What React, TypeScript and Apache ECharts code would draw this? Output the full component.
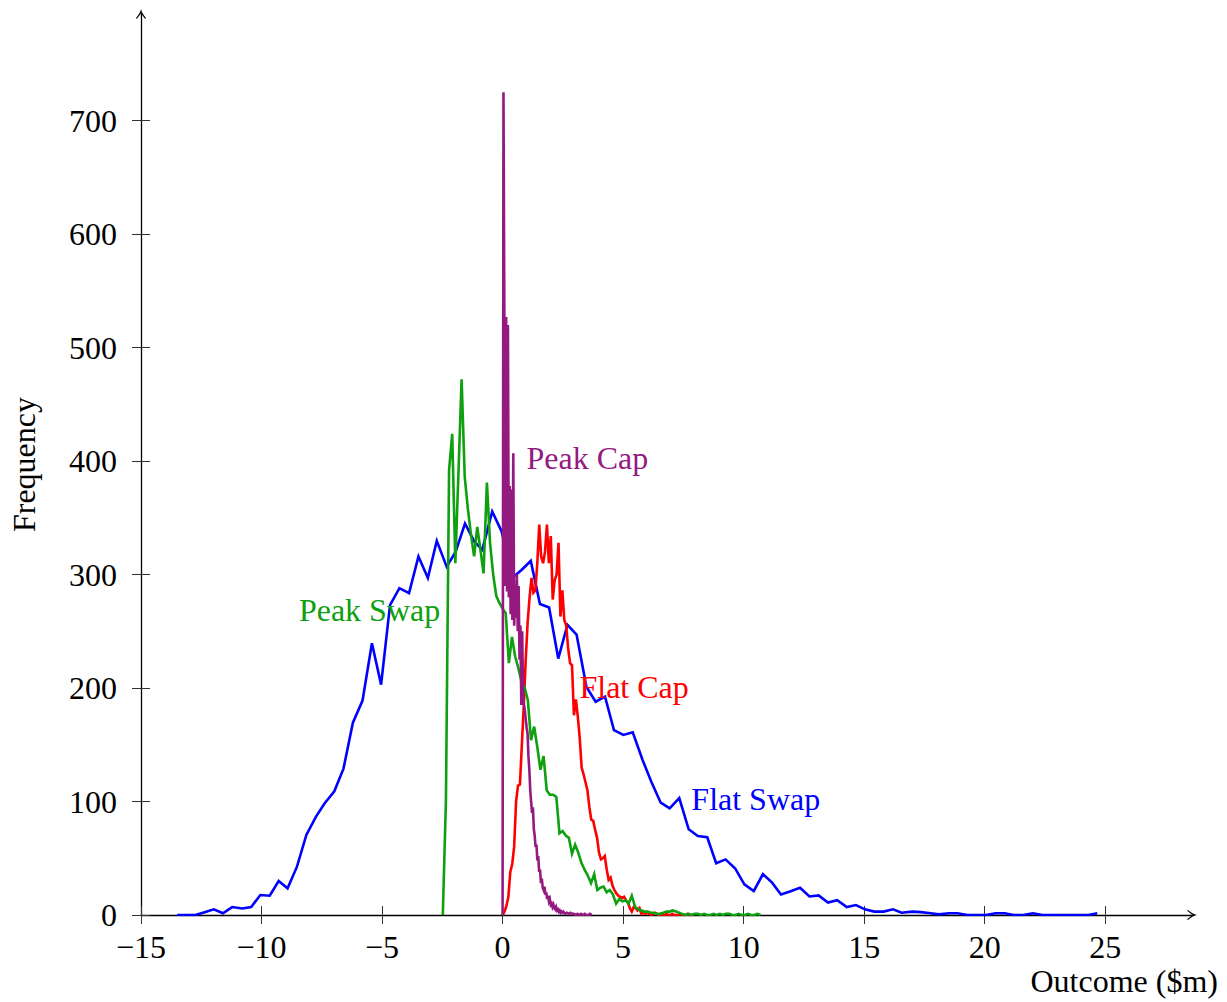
import React, { useEffect, useRef } from 'react';
import * as echarts from 'echarts';

const FONT = "'Liberation Serif', 'Times New Roman', serif";

const xTicks = [-15, -10, -5, 0, 5, 10, 15, 20, 25];
const yTicks = [0, 100, 200, 300, 400, 500, 600, 700];

const seriesNames = ['Flat Swap', 'Flat Cap', 'Peak Swap', 'Peak Cap'];
const seriesColors = ['#0000ff', '#ff0000', '#0ea00e', '#951a80'];

// label anchors (left-middle of text) in data coordinates
const labelX = [7.83, 3.19, -8.45, 0.99];
const labelY = [102, 201, 269, 403];

const flatSwap: [number, number][] = [
  [-13.5, 0], [-13.1, 0], [-12.74, 0], [-12.36, 2.5], [-11.98, 5], [-11.6, 1.5], [-11.22, 7],
  [-10.8, 5.7], [-10.43, 7], [-10.05, 17.6], [-9.66, 17], [-9.29, 30], [-8.92, 23.5],
  [-8.53, 42.6], [-8.14, 70.5], [-7.74, 86.7], [-7.38, 98.5], [-6.98, 109], [-6.6, 129],
  [-6.21, 169.5], [-5.81, 189], [-5.42, 239.5], [-5.04, 203], [-4.67, 273], [-4.28, 288],
  [-3.88, 283.6], [-3.49, 316], [-3.1, 297], [-2.73, 329.7], [-2.32, 307], [-1.95, 320],
  [-1.56, 345], [-1.17, 329], [-0.84, 322], [-0.43, 355.6], [-0.04, 338], [0.4, 297],
  [0.785, 304], [1.17, 312], [1.55, 274], [1.93, 271], [2.31, 226], [2.69, 255.7],
  [3.07, 247], [3.48, 201], [3.86, 188], [4.25, 192.5], [4.62, 163], [5.01, 158.7],
  [5.4, 161], [5.8, 137], [6.17, 117.5], [6.56, 99], [6.93, 94], [7.33, 103], [7.72, 75.5],
  [8.1, 69.6], [8.49, 68.5], [8.86, 45.6], [9.25, 49], [9.65, 41], [10.03, 27], [10.42, 21],
  [10.8, 36], [11.18, 28.5], [11.55, 18], [11.95, 21], [12.34, 24], [12.73, 16.3],
  [13.11, 17.3], [13.5, 10.9], [13.88, 13], [14.28, 7], [14.66, 8.8], [15.03, 5], [15.42, 3],
  [15.8, 3], [16.2, 5], [16.55, 2], [17.0, 3], [17.35, 2.5], [17.76, 1.5], [18.1, 0.6],
  [18.52, 1.5], [18.87, 1.5], [19.28, 0], [19.66, 0], [20.05, 0], [20.45, 1.5], [20.83, 1.5],
  [21.2, 0], [21.6, 0], [22.0, 1.5], [22.4, 0], [22.8, 0], [23.2, 0], [23.6, 0], [24.0, 0],
  [24.3, 0], [24.67, 1.5],
];

const flatCap: [number, number][] = [
  [0, 0], [0.08, 3], [0.16, 8], [0.24, 16], [0.32, 38], [0.4, 45], [0.48, 60], [0.56, 100],
  [0.64, 114], [0.72, 115], [0.8, 150], [0.88, 185], [0.96, 225], [1.04, 258], [1.12, 280],
  [1.2, 297], [1.28, 284], [1.36, 286], [1.44, 310], [1.52, 344], [1.6, 316], [1.68, 310],
  [1.76, 320], [1.84, 344], [1.92, 310], [2.0, 334], [2.08, 278], [2.16, 295], [2.24, 300],
  [2.32, 328], [2.4, 263], [2.48, 286], [2.56, 260], [2.64, 255], [2.72, 235], [2.8, 222],
  [2.88, 220], [2.96, 176], [3.04, 190], [3.12, 175], [3.2, 156], [3.28, 130], [3.36, 124],
  [3.44, 117], [3.52, 110], [3.6, 95], [3.68, 84], [3.76, 83], [3.84, 75], [3.92, 68],
  [4.0, 55], [4.08, 49], [4.16, 50], [4.24, 52], [4.32, 40], [4.4, 31], [4.48, 33],
  [4.56, 26], [4.64, 22], [4.72, 19], [4.8, 17], [4.88, 16], [4.96, 15], [5.04, 16],
  [5.12, 13], [5.2, 11], [5.28, 6], [5.36, 3], [5.44, 7], [5.52, 6], [5.6, 4], [5.68, 6],
  [5.76, 1], [5.84, 2], [5.92, 1], [6.0, 2], [6.08, 1], [6.16, 0], [6.24, 1], [6.32, 2],
  [6.4, 1], [6.48, 0], [6.56, 1], [6.64, 0], [6.72, 0], [6.8, 1], [6.88, 0], [6.96, 0],
  [7.04, 1], [7.12, 0], [7.2, 0], [7.28, 0], [7.36, 1], [7.44, 0], [7.52, 0], [7.6, 0],
  [7.68, 1], [7.76, 0], [7.84, 0], [7.92, 0],
];

const peakSwap: [number, number][] = [
  [-2.48, 0], [-2.35, 101], [-2.22, 392], [-2.09, 424], [-1.96, 310], [-1.83, 390],
  [-1.7, 472], [-1.57, 386], [-1.44, 358], [-1.31, 335], [-1.18, 316], [-1.05, 342],
  [-0.92, 322], [-0.79, 301], [-0.65, 381], [-0.52, 328], [-0.39, 300], [-0.26, 281],
  [-0.13, 275], [0, 270], [0.13, 266], [0.26, 222], [0.39, 245], [0.52, 228], [0.66, 217],
  [0.79, 205], [0.92, 200], [1.05, 189], [1.18, 154], [1.31, 166], [1.44, 148], [1.57, 128],
  [1.7, 140], [1.83, 110], [1.96, 106], [2.1, 106], [2.23, 104], [2.36, 72], [2.49, 74],
  [2.62, 70], [2.75, 68], [2.88, 54], [3.01, 62], [3.14, 55], [3.27, 46], [3.4, 40],
  [3.53, 35], [3.67, 28], [3.8, 36], [3.93, 22], [4.06, 24], [4.19, 25], [4.32, 20],
  [4.45, 22], [4.58, 18], [4.71, 10], [4.84, 14], [4.97, 12], [5.1, 13], [5.23, 10],
  [5.36, 17], [5.5, 7], [5.63, 5], [5.76, 4], [5.89, 3], [6.02, 3], [6.15, 2], [6.28, 2],
  [6.41, 1], [6.54, 1], [6.67, 2], [6.8, 3], [6.93, 3], [7.06, 4], [7.19, 3], [7.32, 2],
  [7.45, 1], [7.58, 0], [7.71, 1], [7.84, 0], [7.97, 1], [8.1, 1], [8.23, 0], [8.36, 1],
  [8.49, 0], [8.62, 0], [8.75, 1], [8.88, 0], [9.01, 1], [9.14, 0], [9.27, 1], [9.4, 1],
  [9.53, 0], [9.66, 0], [9.79, 1], [9.92, 0], [10.05, 0], [10.18, 1], [10.31, 0],
  [10.44, 0], [10.57, 1], [10.7, 0],
];

const peakCap: [number, number][] = [
  [0, 0], [0.037, 725], [0.074, 527], [0.111, 290], [0.148, 527], [0.185, 285], [0.222, 520],
  [0.259, 280], [0.296, 378], [0.333, 265], [0.37, 375], [0.407, 260], [0.444, 407],
  [0.481, 255], [0.518, 290], [0.555, 262], [0.592, 300], [0.629, 250], [0.666, 290],
  [0.703, 225], [0.74, 255], [0.777, 185], [0.814, 250], [0.851, 190], [0.888, 185],
  [0.925, 180], [0.962, 172], [0.999, 165], [1.036, 160], [1.073, 140], [1.11, 128],
  [1.147, 110], [1.184, 100], [1.221, 90], [1.258, 95], [1.295, 76], [1.332, 70],
  [1.369, 60], [1.406, 62], [1.443, 48], [1.48, 52], [1.517, 38], [1.554, 40], [1.591, 28],
  [1.628, 32], [1.665, 24], [1.702, 22], [1.739, 25], [1.776, 18], [1.813, 20], [1.85, 14],
  [1.887, 17], [1.924, 12], [1.961, 14], [1.998, 9], [2.035, 10], [2.072, 7], [2.109, 9],
  [2.146, 6], [2.183, 5], [2.22, 7], [2.257, 4], [2.294, 5], [2.331, 3], [2.368, 4],
  [2.405, 2], [2.442, 3], [2.479, 2], [2.516, 3], [2.59, 1], [2.664, 2], [2.738, 1],
  [2.812, 2], [2.886, 1], [2.96, 1], [3.034, 0], [3.108, 1], [3.182, 0], [3.256, 1],
  [3.33, 0], [3.404, 1], [3.478, 0], [3.552, 0], [3.626, 1], [3.7, 0],
];

const seriesData = [flatSwap, flatCap, peakSwap, peakCap];

const fmtTick = (v: number) => (v < 0 ? '\u2212' + Math.abs(v) : String(v));

// open "to"-style arrow head, tip at top
const ARROW =
  'path://M5,0 C5.5,3 7.5,6 10,9 L9.2,9.8 C7.5,7.6 5.8,5.6 5,4.2 C4.2,5.6 2.5,7.6 0.8,9.8 L0,9 C2.5,6 4.5,3 5,0 Z';

export default function App() {
  const ref = useRef<HTMLDivElement>(null);

  useEffect(() => {
    if (!ref.current) return;
    const chart = echarts.init(ref.current, null, { renderer: 'svg' });

    const axisLineStyle = { color: '#000', width: 1.3 };
    const tickStyle = { color: '#333', width: 1 };
    const labelStyle = { fontSize: 32, fontFamily: FONT, color: '#000' };

    const xMin = -15;
    const xMax = 28.6;
    const yMin = 0;
    const yMax = 794;

    const option: any = {
      animation: false,
      backgroundColor: '#fff',
      grid: { left: 139, right: 35, top: 14, bottom: 87, containLabel: false },
      xAxis: [
        {
          type: 'value',
          min: xMin,
          max: xMax,
          position: 'bottom',
          axisLine: {
            show: true,
            onZero: false,
            lineStyle: axisLineStyle,
            symbol: ['none', ARROW],
            symbolSize: [10, 11],
          },
          axisTick: { show: true, inside: false, length: 9, customValues: xTicks, lineStyle: tickStyle },
          axisLabel: { show: true, customValues: xTicks, formatter: fmtTick, margin: 16, ...labelStyle },
          splitLine: { show: false },
          name: 'Outcome ($m)',
          nameLocation: 'end',
          nameGap: 26,
          nameTextStyle: { ...labelStyle, align: 'right', verticalAlign: 'top', padding: [50, 0, 0, 0] },
        },
        {
          type: 'value',
          min: xMin,
          max: xMax,
          position: 'bottom',
          axisLine: { show: false, onZero: false },
          axisTick: { show: true, inside: true, length: 9, customValues: xTicks, lineStyle: tickStyle },
          axisLabel: { show: false },
          splitLine: { show: false },
        },
      ],
      yAxis: [
        {
          type: 'value',
          min: yMin,
          max: yMax,
          position: 'left',
          axisLine: {
            show: true,
            onZero: false,
            lineStyle: axisLineStyle,
            symbol: ['none', ARROW],
            symbolSize: [10, 11],
          },
          axisTick: { show: true, inside: false, length: 9, customValues: yTicks, lineStyle: tickStyle },
          axisLabel: { show: true, customValues: yTicks, formatter: fmtTick, margin: 24, ...labelStyle },
          splitLine: { show: false },
          name: 'Frequency',
          nameLocation: 'middle',
          nameRotate: 90,
          nameGap: 101,
          nameTextStyle: { ...labelStyle },
        },
        {
          type: 'value',
          min: yMin,
          max: yMax,
          position: 'left',
          axisLine: { show: false, onZero: false },
          axisTick: { show: true, inside: true, length: 9, customValues: yTicks, lineStyle: tickStyle },
          axisLabel: { show: false },
          splitLine: { show: false },
        },
      ],
      series: seriesNames.map((name, i) => ({
        name,
        type: 'line',
        xAxisIndex: 0,
        yAxisIndex: 0,
        data: seriesData[i],
        showSymbol: false,
        symbol: 'none',
        smooth: false,
        z: 2 + i,
        lineStyle: { color: seriesColors[i], width: 2.6, join: 'miter' },
        itemStyle: { color: seriesColors[i] },
        markPoint: {
          silent: true,
          symbol: 'circle',
          symbolSize: 0,
          itemStyle: { color: 'transparent' },
          label: {
            show: true,
            position: 'right',
            distance: 0,
            formatter: name,
            color: seriesColors[i],
            fontSize: 32,
            fontFamily: FONT,
          },
          data: [{ coord: [labelX[i], labelY[i]], value: name }],
        },
      })),
    };

    chart.setOption(option);
    return () => chart.dispose();
  }, []);

  return (
    <div
      ref={ref}
      style={{ position: 'fixed', left: 0, top: 0, width: 1227, height: 1002, background: '#fff' }}
    />
  );
}
